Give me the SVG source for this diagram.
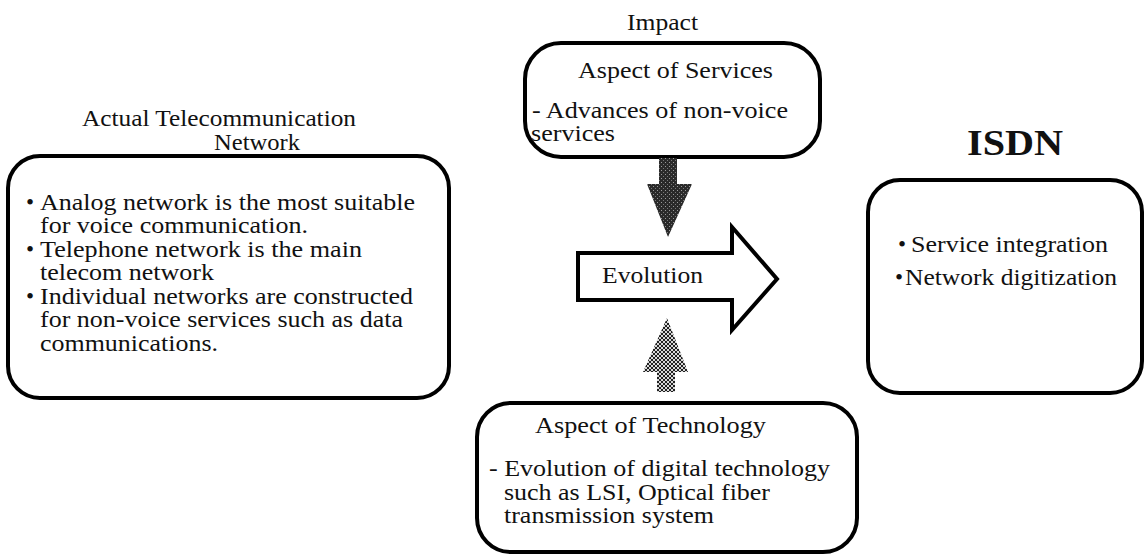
<svg xmlns="http://www.w3.org/2000/svg" width="1147" height="554" viewBox="0 0 1147 554">
  <style>
    .box { fill: none; stroke: #000; stroke-width: 4; }
    .t { font-family: "Liberation Serif", "Times New Roman", serif; font-size: 23px; fill: #111; }
    .title { font-family: "Liberation Serif", "Times New Roman", serif; font-size: 36px; font-weight: bold; fill: #111; }
  </style>
  <defs>
    <!-- cross-hatched fill for the upward arrow -->
    <pattern id="hatch" width="4" height="4" patternUnits="userSpaceOnUse">
      <rect width="4" height="4" fill="#d8d8d8"/>
      <path d="M0,0 L4,4 M4,0 L0,4" stroke="#222" stroke-width="1"/>
    </pattern>
    <!-- dense dark stipple for the downward arrow -->
    <pattern id="stipple" width="4" height="4" patternUnits="userSpaceOnUse">
      <rect width="4" height="4" fill="#2a2a2a"/>
      <rect x="1" y="2" width="1" height="1" fill="#9a9a9a"/>
      <rect x="3" y="0" width="1" height="1" fill="#777"/>
    </pattern>
  </defs>

  <rect width="1147" height="554" fill="#fff"/>

  <!-- Current network -->
  <g id="actual-network">
    <text class="t" x="82" y="126" textLength="274" lengthAdjust="spacingAndGlyphs">Actual Telecommunication</text>
    <text class="t" x="214" y="150" textLength="86" lengthAdjust="spacingAndGlyphs">Network</text>
    <rect class="box" x="8" y="156" width="441" height="242" rx="32" ry="32"/>
    <text class="t" x="26" y="210">•</text>
    <text class="t" x="40" y="210" textLength="375" lengthAdjust="spacingAndGlyphs">Analog network is the most suitable</text>
    <text class="t" x="40" y="233" textLength="268" lengthAdjust="spacingAndGlyphs">for voice communication.</text>
    <text class="t" x="26" y="257">•</text>
    <text class="t" x="40" y="257" textLength="322" lengthAdjust="spacingAndGlyphs">Telephone network is the main</text>
    <text class="t" x="40" y="280" textLength="174" lengthAdjust="spacingAndGlyphs">telecom network</text>
    <text class="t" x="26" y="304">•</text>
    <text class="t" x="40" y="304" textLength="373" lengthAdjust="spacingAndGlyphs">Individual networks are constructed</text>
    <text class="t" x="40" y="327" textLength="363" lengthAdjust="spacingAndGlyphs">for non-voice services such as data</text>
    <text class="t" x="40" y="351" textLength="178" lengthAdjust="spacingAndGlyphs">communications.</text>
  </g>

  <!-- Service-side driver -->
  <g id="services">
    <text class="t" x="627" y="30" textLength="71" lengthAdjust="spacingAndGlyphs">Impact</text>
    <rect class="box" x="525" y="43" width="295" height="114" rx="36" ry="36"/>
    <text class="t" x="578" y="78" textLength="195" lengthAdjust="spacingAndGlyphs">Aspect of Services</text>
    <text class="t" x="532" y="118" textLength="256" lengthAdjust="spacingAndGlyphs">- Advances of non-voice</text>
    <text class="t" x="531" y="141" textLength="84" lengthAdjust="spacingAndGlyphs">services</text>
  </g>

  <!-- Technology-side driver -->
  <g id="technology">
    <rect class="box" x="477" y="403" width="380" height="149" rx="34" ry="34"/>
    <text class="t" x="535" y="433" textLength="231" lengthAdjust="spacingAndGlyphs">Aspect of Technology</text>
    <text class="t" x="489" y="476" textLength="341" lengthAdjust="spacingAndGlyphs">- Evolution of digital technology</text>
    <text class="t" x="504" y="500" textLength="266" lengthAdjust="spacingAndGlyphs">such as LSI, Optical fiber</text>
    <text class="t" x="504" y="523" textLength="210" lengthAdjust="spacingAndGlyphs">transmission system</text>
  </g>

  <!-- Target network -->
  <g id="isdn">
    <text class="title" x="967" y="155" textLength="96" lengthAdjust="spacingAndGlyphs">ISDN</text>
    <rect class="box" x="868" y="180" width="274" height="213" rx="32" ry="32"/>
    <text class="t" x="898" y="252">•</text>
    <text class="t" x="911" y="252" textLength="197" lengthAdjust="spacingAndGlyphs">Service integration</text>
    <text class="t" x="895" y="285">•</text>
    <text class="t" x="905" y="285" textLength="212" lengthAdjust="spacingAndGlyphs">Network digitization</text>
  </g>

  <!-- Arrows -->
  <g id="connectors">
    <g id="evolution">
      <path d="M578,253 L732,253 L732,227 L777,279 L732,330 L732,300 L578,300 Z" fill="#fff" stroke="#000" stroke-width="4" stroke-linejoin="miter"/>
      <text class="t" x="602" y="283" textLength="101" lengthAdjust="spacingAndGlyphs">Evolution</text>
    </g>
    <path id="impact-arrow" d="M659,158 L677,158 L677,184 L692,184 L668,237 L647,184 L659,184 Z" fill="url(#stipple)"/>
    <path id="tech-arrow" d="M657,392 L675,392 L675,372 L688,372 L667,318 L643,372 L657,372 Z" fill="url(#hatch)"/>
  </g>
</svg>
